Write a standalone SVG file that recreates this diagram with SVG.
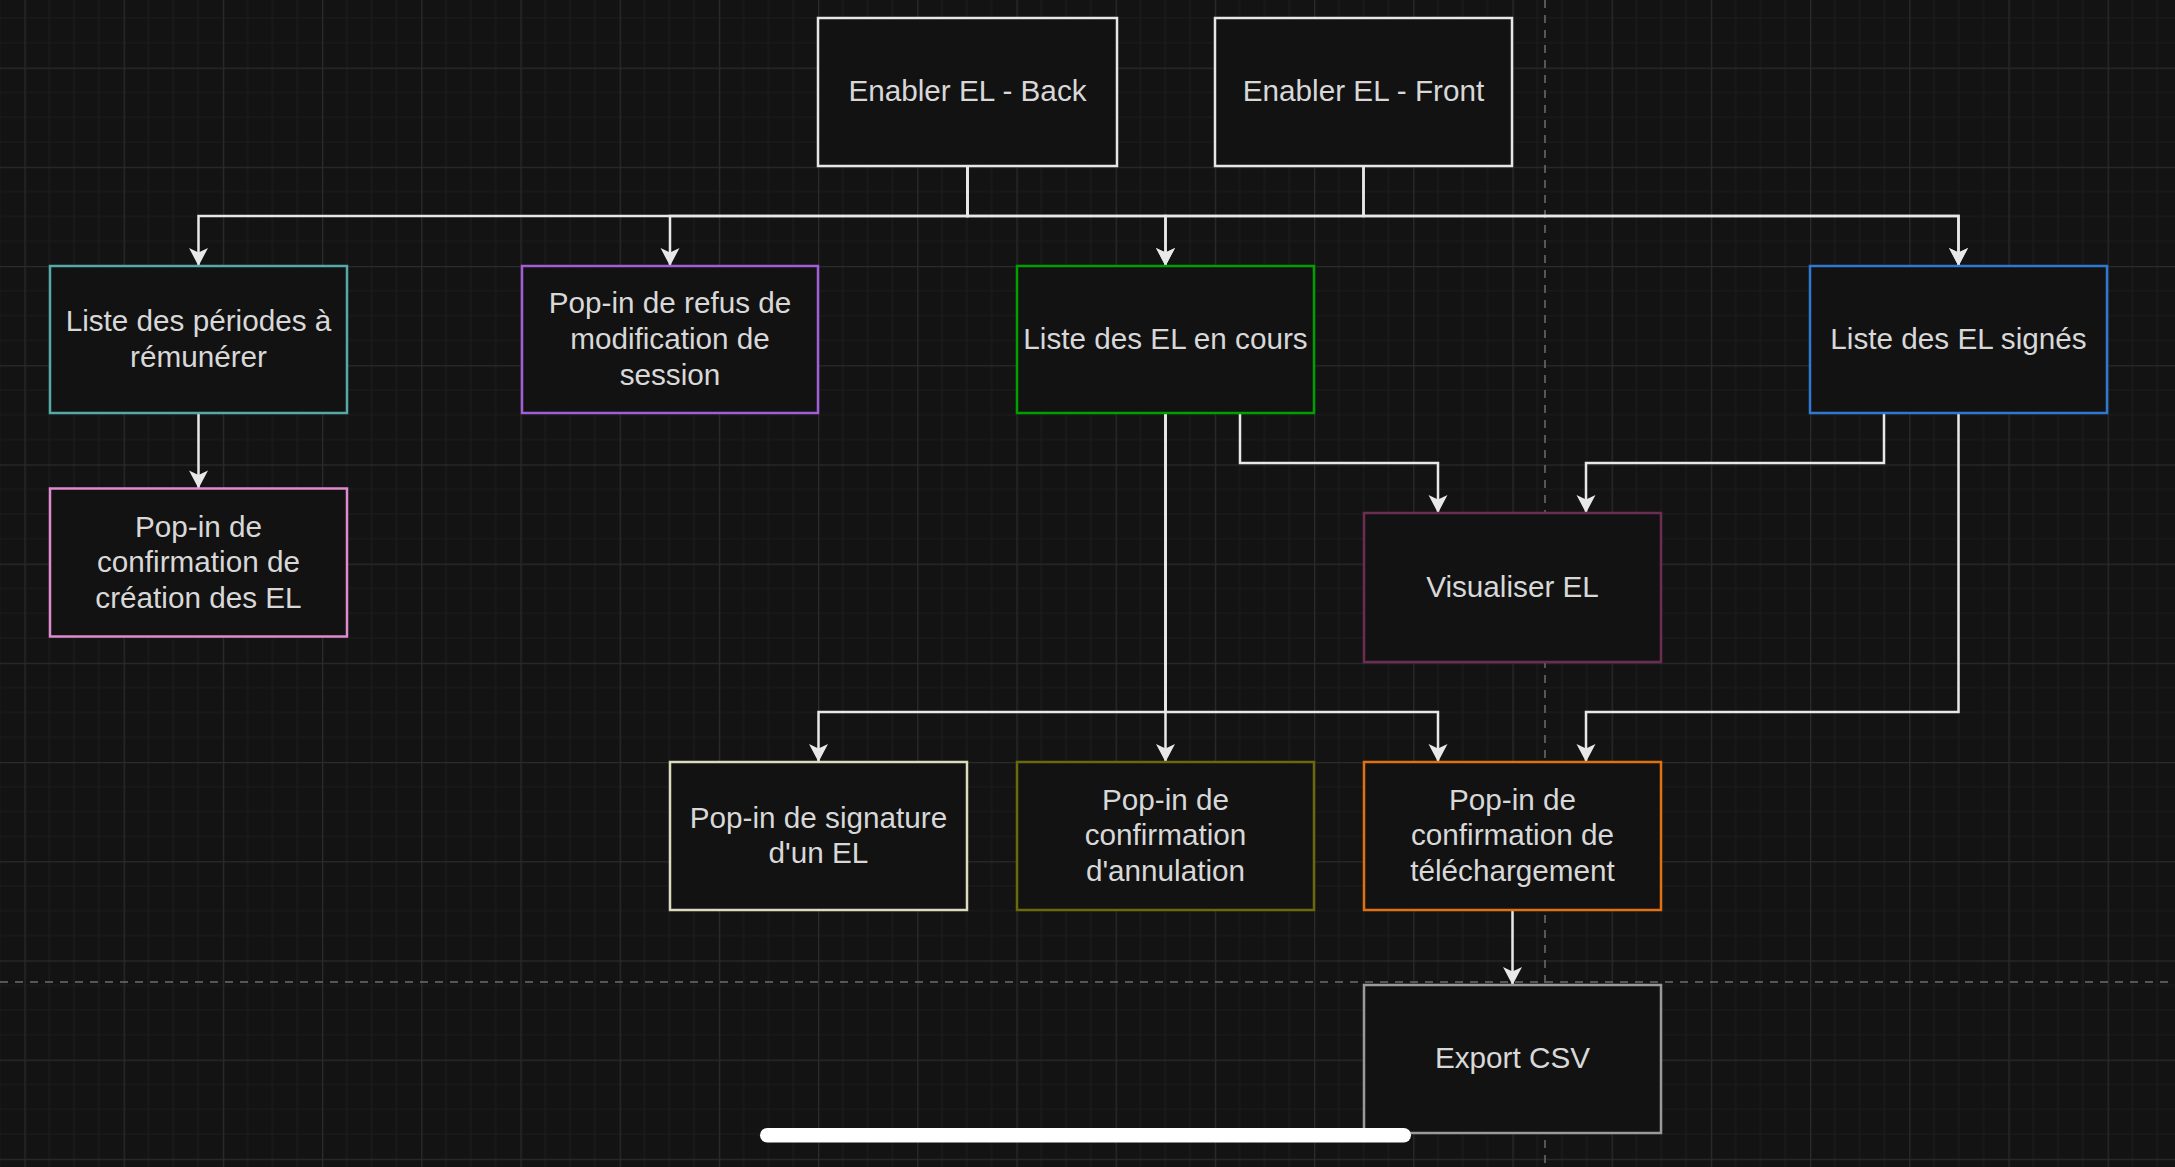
<svg xmlns="http://www.w3.org/2000/svg" width="2175" height="1167" viewBox="0 0 2175 1167">
<style>
.box{fill:#121212;stroke-width:2.5}
.t{font-family:"Liberation Sans",Arial,sans-serif;font-size:29.7px;fill:#d8d8d8;text-anchor:middle}
.c{fill:none;stroke:#e8e8e8;stroke-width:2.5;marker-end:url(#arr)}
.pg{stroke:#6e6e6e;stroke-width:1.5;stroke-dasharray:8 7;fill:none}
</style>
<defs>
<pattern id="grid" patternUnits="userSpaceOnUse" x="24.4" y="67.6" width="99.2" height="99.2">
<rect width="99.2" height="99.2" fill="#131313"/>
<path d="M24.8,0V99.2M49.6,0V99.2M74.4,0V99.2M0,24.8H99.2M0,49.6H99.2M0,74.4H99.2" stroke="#1d1d1d" stroke-width="1.2" fill="none"/>
<path d="M0.6,0V99.2M0,0.6H99.2" stroke="#2b2b2b" stroke-width="1.3" fill="none"/>
</pattern>
<marker id="arr" markerUnits="userSpaceOnUse" viewBox="-19 -11 20 22" refX="0" refY="0" markerWidth="20" markerHeight="22" orient="auto">
<path d="M0,0L-18,-9.5L-13.5,0L-18,9.5Z" fill="#e8e8e8"/>
</marker>
</defs>
<rect width="2175" height="1167" fill="url(#grid)"/>
<g id="pagebreaks">
<path class="pg" d="M1545,0V1167"/>
<path class="pg" d="M0,982H2175"/>
</g>
<g id="connectors">
<path class="c" d="M967.5,166V216H198.5V266"/>
<path class="c" d="M967.5,166V216H670V266"/>
<path class="c" d="M967.5,166V216H1165.5V266"/>
<path class="c" d="M967.5,166V216H1958.5V266"/>
<path class="c" d="M1363.5,166V216H1165.5V266"/>
<path class="c" d="M1363.5,166V216H1958.5V266"/>
<path class="c" d="M198.5,413V488.5"/>
<path class="c" d="M1240,413V463H1438V513"/>
<path class="c" d="M1884,413V463H1586V513"/>
<path class="c" d="M1165.5,413V762"/>
<path class="c" d="M1165.5,413V712H818.5V762"/>
<path class="c" d="M1165.5,413V712H1438V762"/>
<path class="c" d="M1958.5,413V712H1586V762"/>
<path class="c" d="M1512.5,910V985"/>
</g>
<g id="enabler-back"><rect class="box" x="818" y="18" width="299" height="148" stroke="#e6e6e6"/><text class="t" x="967.5" y="101.4">Enabler EL - Back</text></g>
<g id="enabler-front"><rect class="box" x="1215" y="18" width="297" height="148" stroke="#e6e6e6"/><text class="t" x="1363.5" y="101.4">Enabler EL - Front</text></g>
<g id="liste-periodes"><rect class="box" x="50" y="266" width="297" height="147" stroke="#55a9a6"/><text class="t" x="198.5" y="331"><tspan x="198.5">Liste des périodes à</tspan><tspan x="198.5" dy="35.7">rémunérer</tspan></text></g>
<g id="popin-refus"><rect class="box" x="522" y="266" width="296" height="147" stroke="#a05fd8"/><text class="t" x="670" y="313.2"><tspan x="670">Pop-in de refus de</tspan><tspan x="670" dy="35.7">modification de</tspan><tspan x="670" dy="35.7">session</tspan></text></g>
<g id="liste-en-cours"><rect class="box" x="1017" y="266" width="297" height="147" stroke="#00a000"/><text class="t" x="1165.5" y="348.9">Liste des EL en cours</text></g>
<g id="liste-signes"><rect class="box" x="1810" y="266" width="297" height="147" stroke="#3079d2"/><text class="t" x="1958.5" y="348.9">Liste des EL signés</text></g>
<g id="popin-creation"><rect class="box" x="50" y="488.5" width="297" height="148" stroke="#e08ad0"/><text class="t" x="198.5" y="536.7"><tspan x="198.5">Pop-in de</tspan><tspan x="198.5" dy="35.7">confirmation de</tspan><tspan x="198.5" dy="35.7">création des EL</tspan></text></g>
<g id="visualiser"><rect class="box" x="1364" y="513" width="297" height="149" stroke="#6b2d52"/><text class="t" x="1512.5" y="596.9">Visualiser EL</text></g>
<g id="popin-signature"><rect class="box" x="670" y="762" width="297" height="148" stroke="#dcdcbc"/><text class="t" x="818.5" y="827.6"><tspan x="818.5">Pop-in de signature</tspan><tspan x="818.5" dy="35.7">d'un EL</tspan></text></g>
<g id="popin-annulation"><rect class="box" x="1017" y="762" width="297" height="148" stroke="#6a6a0c"/><text class="t" x="1165.5" y="809.7"><tspan x="1165.5">Pop-in de</tspan><tspan x="1165.5" dy="35.7">confirmation</tspan><tspan x="1165.5" dy="35.7">d'annulation</tspan></text></g>
<g id="popin-telechargement"><rect class="box" x="1364" y="762" width="297" height="148" stroke="#e07010"/><text class="t" x="1512.5" y="809.7"><tspan x="1512.5">Pop-in de</tspan><tspan x="1512.5" dy="35.7">confirmation de</tspan><tspan x="1512.5" dy="35.7">téléchargement</tspan></text></g>
<g id="export-csv"><rect class="box" x="1364" y="985" width="297" height="148" stroke="#9a9a9a"/><text class="t" x="1512.5" y="1068.4">Export CSV</text></g>
<rect id="scrollbar" x="760" y="1128" width="651" height="14.5" rx="7.25" fill="#ffffff"/>
</svg>
